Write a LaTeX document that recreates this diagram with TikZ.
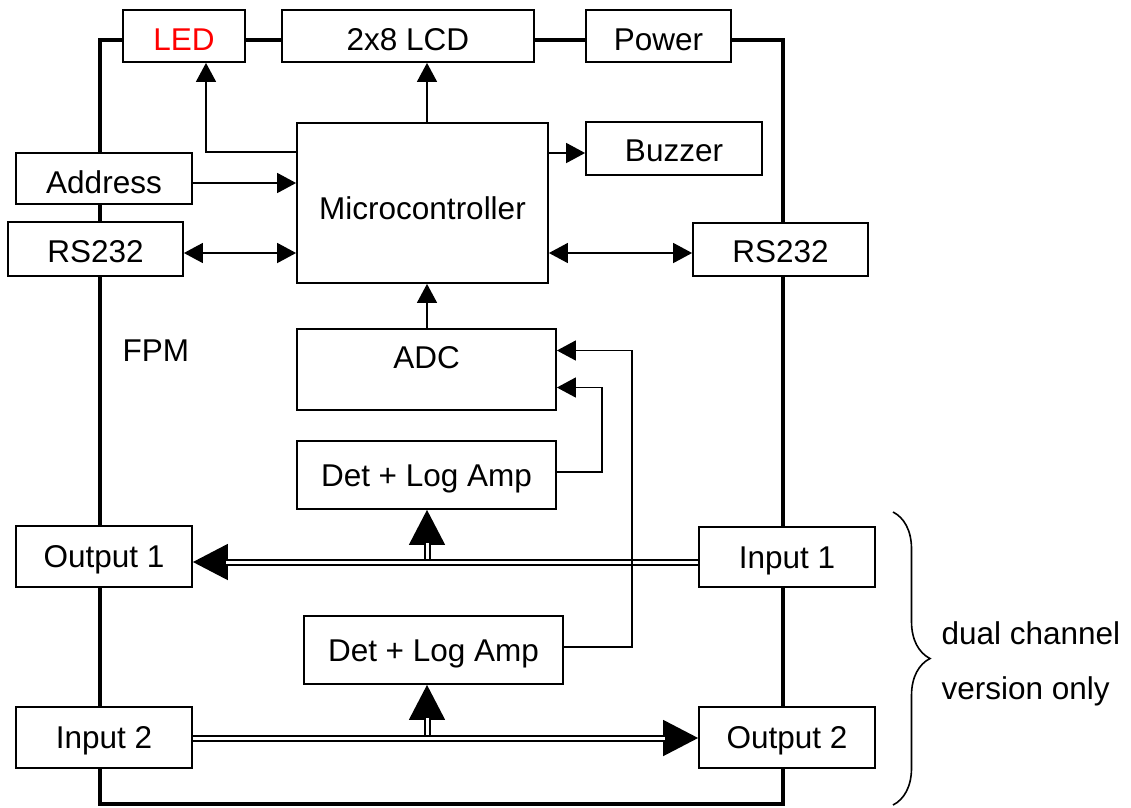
\documentclass[tikz,border=0pt]{standalone}
\usepackage{fontspec}
\setmainfont{Liberation Sans}
\usetikzlibrary{arrows.meta,decorations.pathreplacing}
\begin{document}
\begin{tikzpicture}[x=1pt,y=-1pt,
  txt/.style={font=\fontsize{31.5}{36}\selectfont},
  box/.style={draw, line width=1.8pt, fill=white, inner sep=0pt, txt,
    text height=22.5pt, text depth=0pt},
  frameline/.style={line width=3.5pt},
  conn/.style={line width=1.6pt},
  tip/.style={-{Triangle[length=19pt,width=20pt]}},
  dtip/.style={{Triangle[length=19pt,width=20pt]}-{Triangle[length=19pt,width=20pt]}},
  bigtip/.style={-{Triangle[length=35pt,width=36pt]}},
  rf/.style={double, line width=2pt, double distance=3pt, shorten >=33pt}
]
\useasboundingbox (0,0) rectangle (1131,807);
% frame
\draw[frameline] (100,40) -- (100,804) -- (783,804) -- (783,40) -- cycle;
% boxes
\node[box, minimum width=122pt, minimum height=52pt, text=red, text height=28.5pt] (led) at (184,36) {LED};
\node[box, minimum width=252pt, minimum height=52pt, text height=28.5pt] (lcd) at (408,36) {2x8 LCD};
\node[box, minimum width=145pt, minimum height=52pt, text height=28.5pt] (pow) at (658.5,36) {Power};
\node[box, minimum width=176pt, minimum height=53pt, text height=26.5pt] (buz) at (674,148.5) {Buzzer};
\node[box, minimum width=251pt, minimum height=160pt, text height=32.5pt] (mc) at (422.5,203) {Microcontroller};
\node[box, minimum width=176pt, minimum height=51pt, text height=30.5pt] (addr) at (104,178.5) {Address};
\node[box, minimum width=175pt, minimum height=54pt, text height=26.5pt] (rsl) at (95.5,249) {RS232};
\node[box, minimum width=175pt, minimum height=53pt, text height=26.5pt] (rsr) at (780.5,249.5) {RS232};
\node[draw, line width=1.8pt, fill=white, minimum width=259pt, minimum height=81pt] (adc) at (426.5,369.5) {};
\node[txt, anchor=base] (adct) at (426.5,368) {ADC};
\node[box, minimum width=259pt, minimum height=68pt] (det1) at (426.5,475) {Det + Log Amp};
\node[box, minimum width=176pt, minimum height=61pt] (out1) at (104,556.5) {Output 1};
\node[box, minimum width=176pt, minimum height=60pt] (in1) at (787,557) {Input 1};
\node[box, minimum width=259pt, minimum height=68pt] (det2) at (433.5,650) {Det + Log Amp};
\node[box, minimum width=176pt, minimum height=61pt] (in2) at (104,737.5) {Input 2};
\node[box, minimum width=176pt, minimum height=61pt] (out2) at (787,737.5) {Output 2};
\node[txt, anchor=base west] (fpm) at (119,361) {FPM};
% helper coordinates
\coordinate (ledb) at (206,152);
\coordinate (cx) at (427,0);
\coordinate (buzy) at (0,153);
\coordinate (addry) at (0,183);
\coordinate (rsy) at (0,253);
\coordinate (d1y) at (0,472);
\coordinate (d1x) at (602,472);
\coordinate (a2y) at (0,387.5);
\coordinate (d2y) at (0,647);
\coordinate (d2x) at (632,647);
\coordinate (a1y) at (0,350.5);
\coordinate (r1) at (0,562);
\coordinate (r2) at (0,738);
\coordinate (tap1) at (427,558.5);
\coordinate (tap2) at (427,734.5);
% control connectors
\draw[conn,tip] (mc.west |- ledb) -- (ledb) -- (led.south -| ledb);
\draw[conn,tip] (mc.north -| cx) -- (lcd.south -| cx);
\draw[conn,tip] (mc.east |- buzy) -- (buz.west |- buzy);
\draw[conn,tip] (addr.east |- addry) -- (mc.west |- addry);
\draw[conn,dtip] (rsl.east |- rsy) -- (mc.west |- rsy);
\draw[conn,dtip] (mc.east |- rsy) -- (rsr.west |- rsy);
\draw[conn,tip] (adc.north -| cx) -- (mc.south -| cx);
\draw[conn,tip] (det1.east |- d1y) -- (d1x) -- (d1x |- a2y) -- (adc.east |- a2y);
% RF paths
\draw[conn,bigtip] (in1.west |- r1) -- (out1.east |- r1);
\draw[rf] (in1.west |- r1) -- (out1.east |- r1);
\draw[conn,bigtip] (tap1) -- (det1.south -| tap1);
\draw[rf] (tap1) -- (det1.south -| tap1);
\draw[conn,bigtip] (in2.east |- r2) -- (out2.west |- r2);
\draw[rf] (in2.east |- r2) -- (out2.west |- r2);
\draw[conn,bigtip] (tap2) -- (det2.south -| tap2);
\draw[rf] (tap2) -- (det2.south -| tap2);
\draw[conn,tip] (det2.east |- d2y) -- (d2x) -- (d2x |- a1y) -- (adc.east |- a1y);
% brace
\draw[line width=1.6pt, decorate, decoration={brace, amplitude=37pt}] (893,512) -- (893,805);
\node[txt, anchor=base west] (dual1) at (938,644) {dual channel};
\node[txt, anchor=base west] (dual2) at (938,699) {version only};
\end{tikzpicture}
\end{document}
